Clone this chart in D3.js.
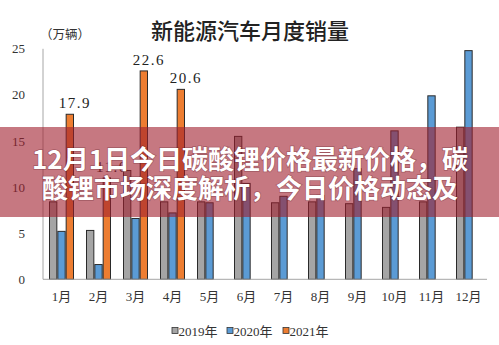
<!DOCTYPE html>
<html>
<head>
<meta charset="utf-8">
<script src="https://cdn.jsdelivr.net/npm/d3@7"></script>
<style>
  html, body { margin: 0; padding: 0; background: #fff; }
  svg { display: block; }
</style>
</head>
<body>
<svg id="chart" width="499" height="345"></svg>
<script>
// ---- data ----
const months = ["1月","2月","3月","4月","5月","6月","7月","8月","9月","10月","11月","12月"];
const seriesNames = ["2019年","2020年","2021年"];
const sales2019 = [8.4, 5.3, 11.8, 8.4, 8.4, 15.5, 8.3, 8.4, 8.2, 7.8, 8.4, 16.5];
const sales2020 = [5.2, 1.6, 6.6, 7.2, 8.3, 10.4, 9.0, 9.1, 12.0, 16.1, 19.9, 24.8];
const sales2021 = [17.9, 11.0, 22.6, 20.6, null, null, null, null, null, null, null, null];
const yTicks = [0, 5, 10, 15, 20, 25];
const colors = ["#a5a5a5", "#5b9bd5", "#ed7d31"];
const title = "新能源汽车月度销量";
const unitLabel = "（万辆）";
const bannerLines = ["12月1日今日碳酸锂价格最新价格，碳", "酸锂市场深度解析，今日价格动态及"];

const allSeries = [sales2019, sales2020, sales2021];

const svg = d3.select("#chart");
const serif = "'Liberation Serif', 'Noto Sans CJK SC', serif";
const cjk = "'Noto Sans CJK SC', sans-serif";

const x0 = d3.scaleBand().domain(months).range([43, 487]).padding(0);
const x1 = d3.scaleBand().domain(seriesNames).range([6, 31]).padding(0);
const y = d3.scaleLinear().domain([0, 25]).range([279.3, 48.8]);

// title
svg.append("text").attr("x", 250).attr("y", 29).attr("text-anchor", "middle")
  .attr("dominant-baseline", "central").attr("font-family", cjk).attr("font-size", 22)
  .attr("font-weight", 500).attr("fill", "#222").text(title);
svg.append("text").attr("x", 65).attr("y", 33).attr("text-anchor", "middle")
  .attr("dominant-baseline", "central").attr("font-family", cjk).attr("font-size", 12.5)
  .attr("fill", "#333").text(unitLabel);

// y axis labels
svg.append("g").selectAll("text").data(yTicks).join("text")
  .attr("x", 25).attr("y", d => y(d)).attr("text-anchor", "end")
  .attr("dominant-baseline", "central").attr("font-family", serif).attr("font-size", 13)
  .attr("fill", "#333").text(d => d);

// bars
const groups = svg.append("g").selectAll("g").data(months).join("g")
  .attr("transform", d => `translate(${x0(d)},0)`);
groups.selectAll("rect")
  .data((m, i) => allSeries.map((s, k) => ({ k, name: seriesNames[k], v: s[i] })).filter(d => d.v != null))
  .join("rect")
  .attr("x", d => x1(d.name) + 0.5)
  .attr("y", d => y(d.v))
  .attr("width", x1.bandwidth() - 1)
  .attr("height", d => y(0) - y(d.v))
  .attr("fill", d => colors[d.k])
  .attr("stroke", "#2a2a2a").attr("stroke-width", 1);

// value labels for 2021
groups.selectAll("text.val")
  .data((m, i) => sales2021[i] != null ? [{ v: sales2021[i] }] : [])
  .join("text").attr("class", "val")
  .attr("x", x1("2021年") + x1.bandwidth() / 2 + 5)
  .attr("y", d => y(d.v) - 6)
  .attr("text-anchor", "middle").attr("font-family", serif).attr("font-size", 15)
  .attr("letter-spacing", 1.5).attr("fill", "#222").text(d => d.v.toFixed(1));

// axes lines
svg.append("line").attr("x1", 43).attr("x2", 43).attr("y1", 48.8).attr("y2", 279.3)
  .attr("stroke", "#a6a6a6").attr("stroke-width", 1);
svg.append("line").attr("x1", 43).attr("x2", 487).attr("y1", 279.3).attr("y2", 279.3)
  .attr("stroke", "#a6a6a6").attr("stroke-width", 1);

// month labels
svg.append("g").selectAll("text").data(months).join("text")
  .attr("x", d => x0(d) + x0.bandwidth() / 2).attr("y", 296)
  .attr("text-anchor", "middle").attr("dominant-baseline", "central")
  .attr("font-family", serif).attr("font-size", 13).attr("fill", "#333").text(d => d);

// legend
const legendX = [172, 227, 283];
const lg = svg.append("g").selectAll("g").data(seriesNames).join("g")
  .attr("transform", (d, i) => `translate(${legendX[i]},331)`);
lg.append("rect").attr("x", 0).attr("y", -3.5).attr("width", 6).attr("height", 6)
  .attr("fill", (d, i) => colors[i]).attr("stroke", "#333").attr("stroke-width", 0.8);
lg.append("text").attr("x", 6.5).attr("y", 0).attr("dominant-baseline", "central")
  .attr("font-family", serif).attr("font-size", 13).attr("fill", "#333").text(d => d);

// banner overlay
svg.append("rect").attr("x", 0).attr("y", 127).attr("width", 499).attr("height", 90)
  .attr("fill", "rgb(160,30,45)").attr("fill-opacity", 0.6);
svg.append("g").selectAll("text").data(bannerLines).join("text")
  .attr("x", 250).attr("y", (d, i) => 157.5 + i * 29)
  .attr("text-anchor", "middle").attr("dominant-baseline", "central")
  .attr("font-family", cjk).attr("font-size", 26).attr("font-weight", 700)
  .attr("fill", "#fff")
  .style("paint-order", "stroke").attr("stroke", "rgba(90,20,30,0.35)").attr("stroke-width", 1.5)
  .text(d => d);
</script>
</body>
</html>
